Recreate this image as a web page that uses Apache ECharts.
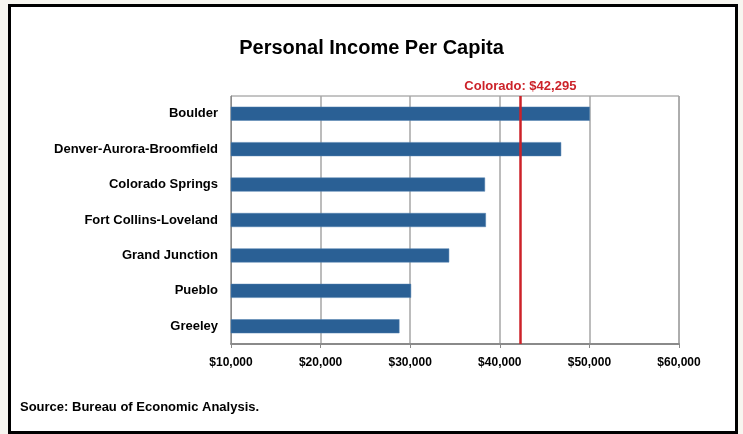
<!DOCTYPE html>
<html>
<head>
<meta charset="utf-8">
<script src="https://cdn.jsdelivr.net/npm/echarts@6/dist/echarts.min.js"></script>
<style>
  html, body { margin: 0; padding: 0; background: #f7f6f0; }
  #chart { width: 743px; height: 434px; }
</style>
</head>
<body>
<div id="chart"></div>
<script>
// Metro areas, top to bottom
const areas = [
  'Boulder',
  'Denver-Aurora-Broomfield',
  'Colorado Springs',
  'Fort Collins-Loveland',
  'Grand Junction',
  'Pueblo',
  'Greeley'
];
// Personal income per capita, dollars
const incomes = [50050, 46850, 38350, 38450, 34350, 30100, 28800];
// Statewide figure drawn as a reference line
const stateLabel = 'Colorado';
const stateValue = 42295;

const fmt = v => '$' + v.toLocaleString('en-US');
const face = '"Liberation Sans", Arial, sans-serif';

const chart = echarts.init(document.getElementById('chart'), null, { renderer: 'canvas' });
chart.setOption({
  backgroundColor: '#f7f6f0',
  animation: false,
  graphic: [
    {
      type: 'rect', z: -10,
      shape: { x: 9.5, y: 5.5, width: 727, height: 427 },
      style: { fill: '#ffffff', stroke: '#000000', lineWidth: 3 }
    },
    {
      type: 'text', left: 20, top: 401,
      style: { text: 'Source: Bureau of Economic Analysis.', font: 'bold 13px ' + face, fill: '#000' }
    }
  ],
  title: {
    text: 'Personal Income Per Capita',
    left: 'center', top: 33,
    textStyle: { fontFamily: face, fontWeight: 'bold', fontSize: 20, color: '#000' }
  },
  grid: { left: 231, right: 64, top: 96, bottom: 90, containLabel: false,
          show: true, borderColor: '#8a8a8a', borderWidth: 1 },
  xAxis: {
    type: 'value', min: 10000, max: 60000, interval: 10000,
    axisLine: { show: true, lineStyle: { color: '#8a8a8a', width: 2 } },
    axisTick: { show: true, length: 4, lineStyle: { color: '#8a8a8a' } },
    axisLabel: { formatter: fmt, fontFamily: face, fontWeight: 'bold', fontSize: 12, color: '#000', margin: 13 },
    splitLine: { show: true, lineStyle: { color: '#a6a6a6', width: 1.5 } }
  },
  yAxis: {
    type: 'category', data: areas, inverse: true,
    axisLine: { show: true, lineStyle: { color: '#8a8a8a', width: 1 } },
    axisTick: { show: false },
    axisLabel: { fontFamily: face, fontWeight: 'bold', fontSize: 13, color: '#000', margin: 13 }
  },
  series: [{
    type: 'bar',
    data: incomes,
    barWidth: 14,
    itemStyle: { color: '#2a6095', borderColor: '#4f7fae', borderWidth: 0.5 },
    markLine: {
      symbol: 'none', silent: true,
      lineStyle: { color: '#cc2229', width: 2.5, type: 'solid' },
      label: {
        show: true, position: 'start', formatter: stateLabel + ': ' + fmt(stateValue),
        color: '#cc2229', fontFamily: face, fontWeight: 'bold', fontSize: 13, distance: 3
      },
      data: [{ xAxis: stateValue }]
    }
  }]
});
</script>
</body>
</html>
